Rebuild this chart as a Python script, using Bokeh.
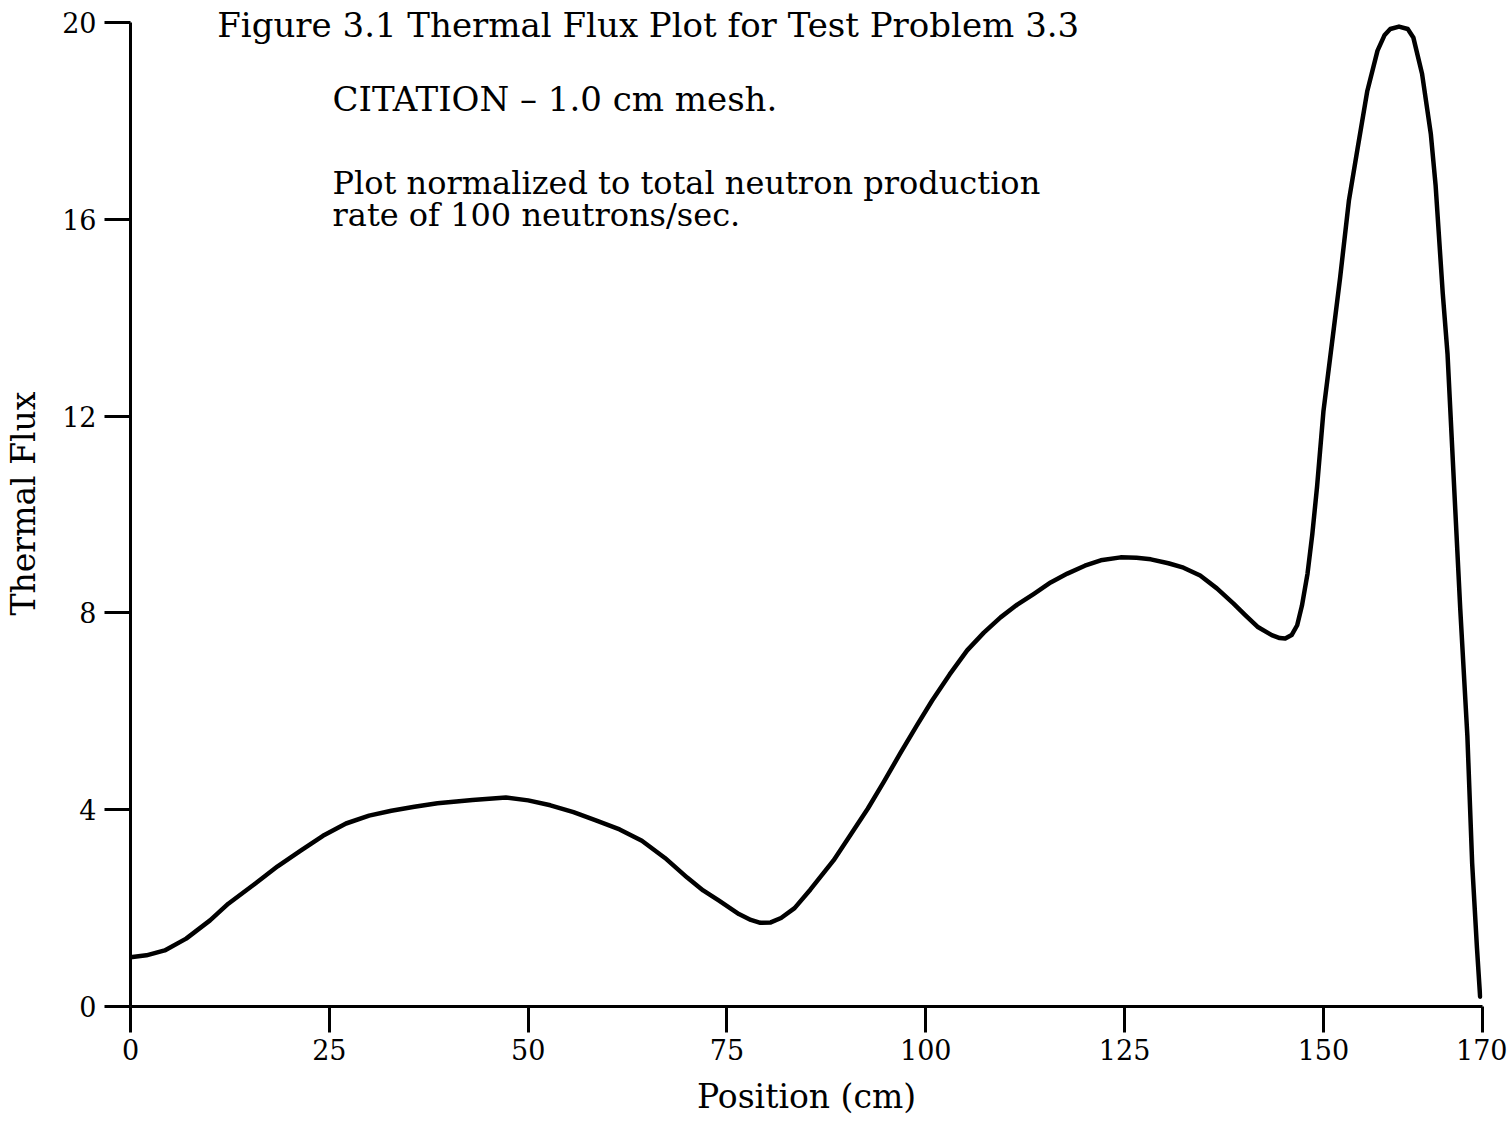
from bokeh.plotting import figure
from bokeh.models import Range1d, FixedTicker, Label
from bokeh.embed import file_html
from bokeh.resources import INLINE

# Thermal flux curve
position_cm = [0, 2.0, 4.3, 7.0, 10.0, 12.3, 15.7, 18.5, 21.4, 24.2, 27.1, 30.0, 32.8,
               35.7, 38.6, 43.0, 47.2, 50.0, 52.8, 55.7, 58.6, 61.5, 64.3, 67.2, 70.0,
               72.0, 74.0, 76.5, 78.0, 79.2, 80.5, 81.8, 83.5, 85.5, 88.4, 90.5, 92.7,
               94.7, 96.8, 98.9, 100.8, 103.0, 105.2, 107.3, 109.4, 111.5, 113.6, 115.7,
               117.8, 120.0, 122.0, 124.5, 126.5, 128.3, 130.5, 132.4, 134.5, 136.6,
               138.7, 140.2, 141.7, 143.5, 144.5, 145.2, 146.0, 146.7, 147.3, 148.0,
               148.6, 149.2, 150.0, 151.3, 152.1, 153.2, 154.3, 155.5, 156.8, 157.7,
               158.4, 159.5, 160.6, 161.3, 162.4, 163.5, 164.1, 165.0, 165.6, 166.4,
               167.2, 168.1, 168.7, 169.3, 169.7]
thermal_flux = [1.0, 1.04, 1.14, 1.38, 1.75, 2.09, 2.5, 2.85, 3.17, 3.47, 3.72, 3.88, 3.98,
                4.06, 4.13, 4.2, 4.25, 4.19, 4.09, 3.95, 3.78, 3.6, 3.37, 3.02, 2.62,
                2.36, 2.15, 1.88, 1.76, 1.7, 1.71, 1.8, 2.0, 2.38, 2.97, 3.48, 4.02,
                4.56, 5.15, 5.72, 6.22, 6.75, 7.24, 7.6, 7.91, 8.17, 8.39, 8.62, 8.8,
                8.96, 9.07, 9.13, 9.12, 9.09, 9.01, 8.92, 8.76, 8.5, 8.19, 7.95, 7.72,
                7.55, 7.49, 7.48, 7.55, 7.75, 8.15, 8.8, 9.6, 10.57, 12.1, 13.78, 14.82,
                16.38, 17.45, 18.6, 19.43, 19.75, 19.87, 19.92, 19.87, 19.7, 18.96,
                17.74, 16.7, 14.5, 13.27, 10.67, 8.09, 5.49, 2.91, 1.2, 0.2]

x_ticks = [0, 25, 50, 75, 100, 125, 150, 170]
y_ticks = [0, 4, 8, 12, 16, 20]

title_text = "Figure 3.1  Thermal Flux Plot for Test Problem 3.3"
note_1 = "CITATION \u2013 1.0 cm mesh."
note_2a = "Plot normalized to total neutron production"
note_2b = "rate of 100 neutrons/sec."

FONT = "DejaVu Serif"

p = figure(width=1507, height=1122, output_backend="svg", toolbar_location=None,
           x_range=Range1d(0, 170), y_range=Range1d(0, 20.45),
           min_border_left=130, min_border_right=25, min_border_top=0,
           min_border_bottom=116)
p.outline_line_color = None
p.grid.visible = False
p.background_fill_color = "white"
p.border_fill_color = "white"

p.line(position_cm, thermal_flux, line_color="black", line_width=4.5,
       line_join="round", line_cap="round")

for ax in (p.xaxis[0], p.yaxis[0]):
    ax.axis_line_width = 3
    ax.axis_line_color = "black"
    ax.major_tick_line_width = 3
    ax.major_tick_line_color = "black"
    ax.major_tick_in = 0
    ax.major_tick_out = 26
    ax.minor_tick_line_color = None
    ax.major_label_text_font = FONT
    ax.major_label_text_font_size = "27px"
    ax.major_label_text_color = "black"
    ax.axis_label_text_font = FONT
    ax.axis_label_text_font_size = "33px"
    ax.axis_label_text_font_style = "normal"
    ax.axis_label_text_color = "black"

p.yaxis.bounds = (0, 20)
p.xaxis.bounds = (0, 170)
p.xaxis.ticker = FixedTicker(ticks=x_ticks)
p.yaxis.ticker = FixedTicker(ticks=y_ticks)
p.xaxis.major_label_standoff = 6
p.yaxis.major_label_standoff = 8
p.xaxis.axis_label = "Position (cm)"
p.yaxis.axis_label = "Thermal Flux"
p.xaxis.axis_label_standoff = 14
p.yaxis.axis_label_standoff = 16

p.add_layout(Label(x=10.9, y=19.96, text=title_text, text_font=FONT,
                   text_font_size="34px", text_color="black",
                   text_baseline="alphabetic"))
p.add_layout(Label(x=25.4, y=18.45, text=note_1, text_font=FONT,
                   text_font_size="34px", text_color="black",
                   text_baseline="alphabetic"))
p.add_layout(Label(x=25.4, y=16.75, text=note_2a, text_font=FONT,
                   text_font_size="32px", text_color="black",
                   text_baseline="alphabetic"))
p.add_layout(Label(x=25.4, y=16.08, text=note_2b, text_font=FONT,
                   text_font_size="32px", text_color="black",
                   text_baseline="alphabetic"))

open("out.html", "w").write(file_html(p, INLINE))
